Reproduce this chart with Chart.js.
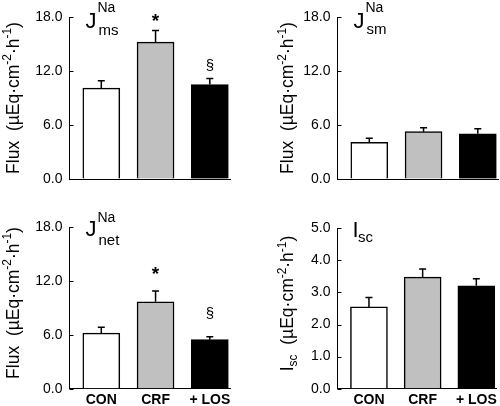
<!DOCTYPE html>
<html><head><meta charset="utf-8">
<script src="https://cdn.jsdelivr.net/npm/chart.js@4/dist/chart.umd.min.js"></script>
<style>
html,body{margin:0;padding:0;background:#fff;}
#wrap{position:relative;width:500px;height:406px;overflow:hidden;}
canvas{position:absolute;}
</style></head><body>
<div id="wrap">
<canvas id="c1" width="250" height="203" style="left:0;top:0"></canvas>
<canvas id="c2" width="250" height="203" style="left:250px;top:0"></canvas>
<canvas id="c3" width="250" height="203" style="left:0;top:203px"></canvas>
<canvas id="c4" width="250" height="203" style="left:250px;top:203px"></canvas>
</div>
<script>
// ---- data ----
const categories = ['CON', 'CRF', '+ LOS'];
const barColors = ['#ffffff', '#c0c0c0', '#000000'];
const jmsMean = [10.1, 15.2, 10.5];
const jmsSem = [0.82, 1.3, 0.66];
const jsmMean = [4.08, 5.26, 5.03];
const jsmSem = [0.44, 0.44, 0.56];
const jnetMean = [6.2, 9.7, 5.47];
const jnetSem = [0.65, 1.2, 0.33];
const iscMean = [2.55, 3.48, 3.21];
const iscSem = [0.29, 0.25, 0.22];
const fluxTicks = [0, 6, 12, 18];
const iscTicks = [0, 1, 2, 3, 4, 5];
const jmsMarks = ['', '*', '§'];
const jmsMarkY = [null, 17.9, 12.7];
const jnetMarks = ['', '*', '§'];
const jnetMarkY = [null, 13.2, 8.4];

const FONT = '"Liberation Sans", Arial, sans-serif';

function richWidth(ctx, segs, size) {
  let w = 0;
  segs.forEach(s => {
    const fs = (s.sup || s.sub) ? size * 0.68 : size;
    ctx.font = fs + 'px ' + FONT;
    w += ctx.measureText(s.t).width;
  });
  return w;
}
function drawRich(ctx, segs, size, x0, y0) {
  let x = x0;
  segs.forEach(s => {
    const fs = (s.sup || s.sub) ? size * 0.68 : size;
    ctx.font = fs + 'px ' + FONT;
    const dy = s.sup ? -size * 0.42 : (s.sub ? size * 0.22 : 0);
    ctx.fillText(s.t, x, y0 + dy);
    x += ctx.measureText(s.t).width;
  });
}

const fluxTitle = [{t: 'Flux  (µEq·cm'}, {t: '-2', sup: true}, {t: '·h'}, {t: '-1', sup: true}, {t: ')'}];
const iscTitle = [{t: 'I'}, {t: 'sc', sub: true}, {t: '  (µEq·cm'}, {t: '-2', sup: true}, {t: '·h'}, {t: '-1', sup: true}, {t: ')'}];

function makeChart(id, cfg) {
  const ctx = document.getElementById(id).getContext('2d');
  const H = 203, W = 250;
  const extras = {
    id: 'extras_' + id,
    afterDatasetsDraw(chart) {
      const c = chart.ctx, xs = chart.scales.x, ys = chart.scales.y, a = chart.chartArea;
      c.save();
      // inward tick marks
      c.strokeStyle = '#000'; c.lineWidth = 1;
      cfg.ticks.forEach(v => {
        const py = Math.round(ys.getPixelForValue(v)) + 0.5;
        c.beginPath(); c.moveTo(a.left, py); c.lineTo(a.left + 4, py); c.stroke();
      });
      // error bars
      c.lineWidth = 1.5;
      cfg.mean.forEach((m, i) => {
        const px = xs.getPixelForValue(i + 1);
        const yb = ys.getPixelForValue(m), yt = ys.getPixelForValue(m + cfg.sem[i]);
        c.beginPath(); c.moveTo(px, yb); c.lineTo(px, yt);
        c.moveTo(px - 3.5, yt); c.lineTo(px + 3.5, yt); c.stroke();
      });
      // significance marks
      if (cfg.marks) {
        c.fillStyle = '#000';
        cfg.marks.forEach((t, i) => {
          if (!t) return;
          c.font = (t === '*' ? 'bold 19px ' : '15px ') + FONT;
          const mt = c.measureText(t);
          const px = xs.getPixelForValue(i + 1), py = ys.getPixelForValue(cfg.markY[i]);
          c.textAlign = 'center'; c.textBaseline = 'alphabetic';
          const off = (mt.actualBoundingBoxAscent - mt.actualBoundingBoxDescent) / 2;
          c.fillText(t, px, py + off);
        });
      }
      // corner label
      c.fillStyle = '#000'; c.textAlign = 'left'; c.textBaseline = 'alphabetic';
      const k = cfg.corner;
      c.font = k.bigSize + 'px ' + FONT;
      c.fillText(k.big, a.left + k.bigDx, a.top + k.bigDy);
      if (k.sup) { c.font = '14px ' + FONT; c.fillText(k.sup, a.left + 28, a.top - 5); }
      c.font = '15px ' + FONT;
      c.fillText(k.sub, a.left + k.subDx, a.top + k.subDy);
      // rotated axis title
      c.translate(cfg.titleX, (a.top + a.bottom) / 2 + cfg.titleDy);
      c.rotate(-Math.PI / 2);
      const tw = richWidth(c, cfg.title, 17.5);
      drawRich(c, cfg.title, 17.5, -tw / 2, 0);
      c.restore();
    }
  };
  return new Chart(ctx, {
    type: 'bar',
    data: {
      datasets: [{
        data: cfg.mean.map((v, i) => ({x: i + 1, y: v})),
        backgroundColor: barColors,
        borderColor: '#000',
        borderWidth: 1.5,
        borderSkipped: 'start',
        barThickness: 37
      }]
    },
    options: {
      responsive: false,
      animation: false,
      events: [],
      layout: {padding: {left: 0, right: W - cfg.right, top: cfg.top, bottom: 0}},
      plugins: {legend: {display: false}, tooltip: {enabled: false}},
      scales: {
        x: {
          type: 'linear', min: 0.414, max: 3.372, offset: false,
          afterBuildTicks: s => { s.ticks = categories.map((c, i) => ({value: i + 1})); },
          afterFit: s => { s.height = H - cfg.bottom; },
          grid: {display: true, offset: false, drawOnChartArea: false, drawTicks: false},
          border: {display: true, color: '#000', width: 1},
          ticks: {
            display: cfg.showX, autoSkip: false, maxRotation: 0, padding: 3,
            color: '#000', font: {family: FONT, size: 14, weight: 'bold'},
            callback: v => categories[Math.round(v) - 1]
          }
        },
        y: {
          min: 0, max: cfg.max,
          afterBuildTicks: s => { s.ticks = cfg.ticks.map(v => ({value: v})); },
          afterFit: s => { s.width = cfg.left; },
          grid: {display: true, drawOnChartArea: false, drawTicks: false},
          border: {display: true, color: '#000', width: 1},
          ticks: {
            padding: 7, color: '#000', font: {family: FONT, size: 14},
            callback: v => Number(v).toFixed(1)
          }
        }
      }
    },
    plugins: [extras]
  });
}

makeChart('c1', {mean: jmsMean, sem: jmsSem, ticks: fluxTicks, max: 18, showX: false,
  marks: jmsMarks, markY: jmsMarkY, left: 69.5, right: 230, top: 17, bottom: 179,
  corner: {big: 'J', bigSize: 22, bigDx: 16, bigDy: 10.5, sup: 'Na', sub: 'ms', subDx: 29, subDy: 18},
  title: fluxTitle, titleX: 18.5, titleDy: 0});
makeChart('c2', {mean: jsmMean, sem: jsmSem, ticks: fluxTicks, max: 18, showX: false,
  left: 87.5, right: 248, top: 17, bottom: 179,
  corner: {big: 'J', bigSize: 22, bigDx: 16, bigDy: 10.5, sup: 'Na', sub: 'sm', subDx: 29, subDy: 16.5},
  title: fluxTitle, titleX: 43, titleDy: 0});
makeChart('c3', {mean: jnetMean, sem: jnetSem, ticks: fluxTicks, max: 18, showX: true,
  marks: jnetMarks, markY: jnetMarkY, left: 69.5, right: 230, top: 24.3, bottom: 185.7,
  corner: {big: 'J', bigSize: 22, bigDx: 16, bigDy: 8.5, sup: 'Na', sub: 'net', subDx: 29, subDy: 17.5},
  title: fluxTitle, titleX: 18.5, titleDy: -5});
makeChart('c4', {mean: iscMean, sem: iscSem, ticks: iscTicks, max: 5, showX: true,
  left: 87.5, right: 248, top: 25.3, bottom: 185.7,
  corner: {big: 'I', bigSize: 22, bigDx: 15, bigDy: 8.7, sup: null, sub: 'sc', subDx: 20.5, subDy: 14},
  title: iscTitle, titleX: 43, titleDy: -5});
</script>
</body></html>
